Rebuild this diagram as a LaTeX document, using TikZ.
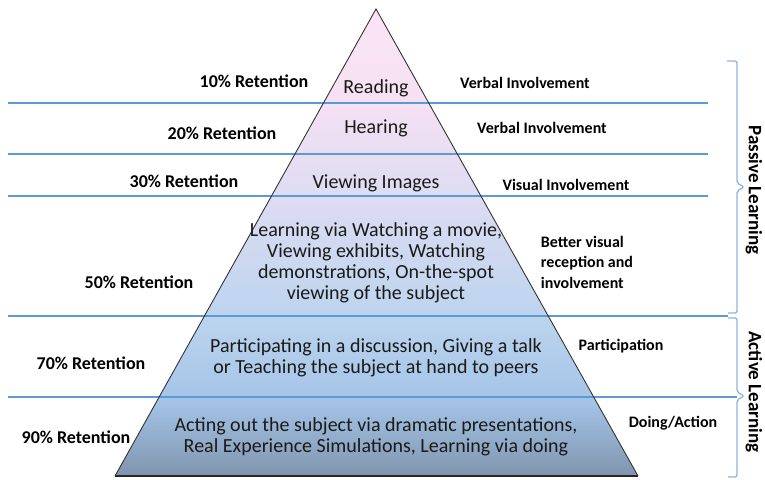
\documentclass[tikz,border=0pt]{standalone}
\usepackage{fontspec}
\setmainfont{Carlito}

\definecolor{rulecol}{HTML}{5B9BD5}
\definecolor{bracecol}{HTML}{8DB4E2}
\definecolor{inkcol}{HTML}{1A1A1A}
\definecolor{pyrTop}{HTML}{FBE4F5}
\definecolor{pyrA}{HTML}{F5E1F3}
\definecolor{pyrB}{HTML}{DCDCF2}
\definecolor{pyrC}{HTML}{BCD4EE}
\definecolor{pyrD}{HTML}{A4C4E7}
\definecolor{pyrE}{HTML}{8095AE}

\pgfdeclareverticalshading{pyramidfill}{100bp}{color(0bp)=(pyrE); color(25bp)=(pyrE); color(33bp)=(pyrD); color(42bp)=(pyrC); color(54.5bp)=(pyrB); color(65bp)=(pyrA); color(75bp)=(pyrTop); color(100bp)=(pyrTop)}

\begin{document}
\begin{tikzpicture}[x=1pt,y=-1pt]
    \useasboundingbox (0,0) rectangle (765,479);

    % pyramid
    \coordinate (apex) at (376,9);
    \coordinate (bl) at (115,476);
    \coordinate (br) at (638,476);
    \shade[shading=pyramidfill] (apex) -- (bl) -- (br) -- cycle;

    % level rules
    \foreach \y/\xe in {103/708, 154/708, 196/708, 316/728, 397/737}
        \draw[rulecol, line width=1.4pt] (8,\y) -- (\xe,\y);

    \draw[black!80, line width=0.9pt] (bl) -- (apex) -- (br);
    \draw[black!85, line width=2pt] (bl) -- (br);

    % brackets
    \begin{scope}[bracecol, line width=1.3pt, rounded corners=2pt]
        \draw (727,61) -- (737,61) -- (737,183) -- (744,187) -- (737,191) -- (737,313) -- (728,313);
        \draw (728,318) -- (737,318) -- (737,392) -- (744,396) -- (737,400) -- (737,477) -- (728,477);
    \end{scope}

    % retention labels
    \begin{scope}[every node/.style={font=\fontsize{18}{21}\selectfont\bfseries, inner sep=0pt}]
        \node (r1) at (254,81) {10\% Retention};
        \node (r2) at (222,133) {20\% Retention};
        \node (r3) at (184,181) {30\% Retention};
        \node (r4) at (139,282) {50\% Retention};
        \node (r5) at (91,363) {70\% Retention};
        \node (r6) at (76,437) {90\% Retention};
    \end{scope}

    % pyramid levels
    \begin{scope}[every node/.style={font=\fontsize{20}{21}\selectfont, text=inkcol, align=center, inner sep=0pt}]
        \node (p1) at (376,88) {Reading};
        \node (p2) at (376,128) {Hearing};
        \node (p3) at (376,183) {Viewing Images};
        \node (p4) at (376,263) {Learning via Watching a movie,\\Viewing exhibits, Watching\\demonstrations, On-the-spot\\viewing of the subject};
        \node (p5) at (376,358) {Participating in a discussion, Giving a talk\\or Teaching the subject at hand to peers};
        \node (p6) at (376,437) {Acting out the subject via dramatic presentations,\\Real Experience Simulations, Learning via doing};
    \end{scope}

    % involvement labels
    \begin{scope}[every node/.style={font=\fontsize{16}{20.5}\selectfont\bfseries, inner sep=0pt}]
        \node (v1) at (525,83) {Verbal Involvement};
        \node (v2) at (542,128) {Verbal Involvement};
        \node (v3) at (566,185) {Visual Involvement};
        \node[align=left] (v4) at (587,262) {Better visual\\reception and\\involvement};
        \node (v5) at (621,346) {Participation};
        \node (v6) at (673,423) {Doing/Action};
    \end{scope}

    % learning modes
    \node[font=\fontsize{19}{22}\selectfont\bfseries, rotate=-90, inner sep=0pt] (passive) at (754,190) {Passive Learning};
    \node[font=\fontsize{19}{22}\selectfont\bfseries, rotate=-90, inner sep=0pt] (active) at (754,392) {Active Learning};
\end{tikzpicture}
\end{document}
